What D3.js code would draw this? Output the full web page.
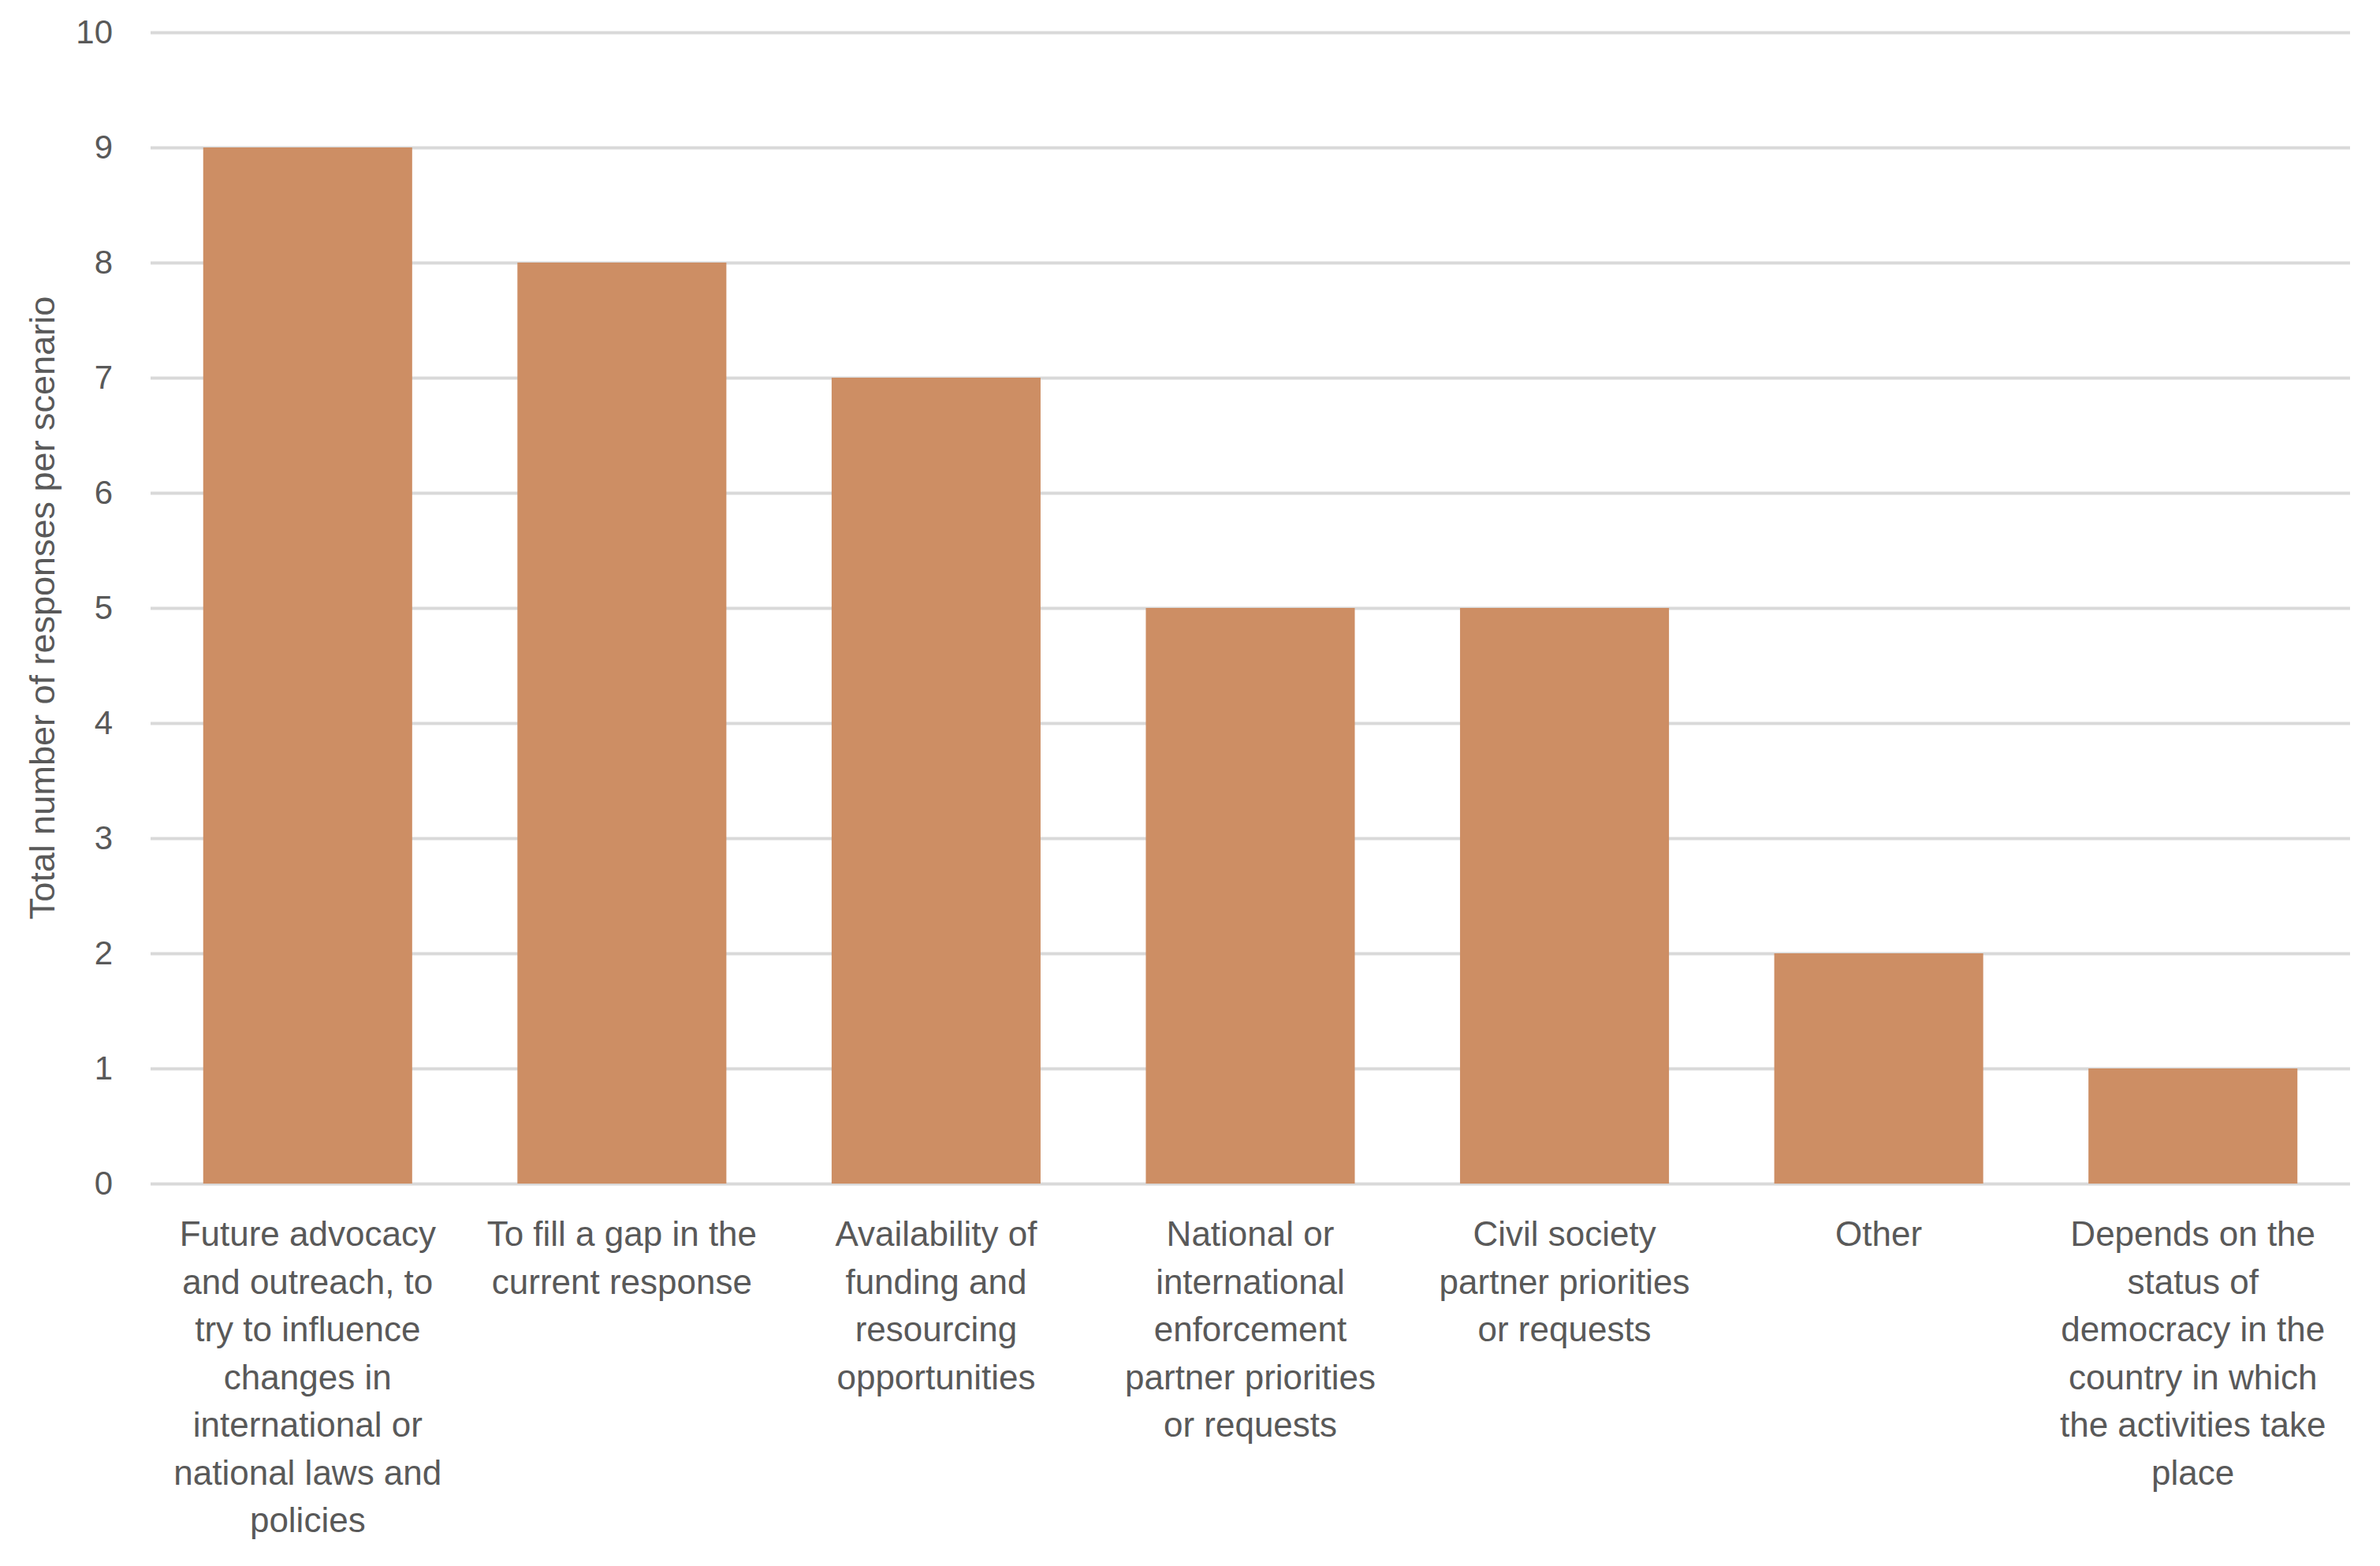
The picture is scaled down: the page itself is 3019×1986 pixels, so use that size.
<!DOCTYPE html>
<html>
<head>
<meta charset="utf-8">
<script src="https://cdn.jsdelivr.net/npm/d3@7"></script>
<style>
  body { margin: 0; background: #fff; }
  text { font-family: "Liberation Sans", Arial, sans-serif; fill: #595959; }
</style>
</head>
<body>
<div id="chart"></div>
<script>
// categories, with the line breaks used in the original labels
var categories = [
  "Future advocacy\nand outreach, to\ntry to influence\nchanges in\ninternational or\nnational laws and\npolicies",
  "To fill a gap in the\ncurrent response",
  "Availability of\nfunding and\nresourcing\nopportunities",
  "National or\ninternational\nenforcement\npartner priorities\nor requests",
  "Civil society\npartner priorities\nor requests",
  "Other",
  "Depends on the\nstatus of\ndemocracy in the\ncountry in which\nthe activities take\nplace"
];
var responses = [9, 8, 7, 5, 5, 2, 1];
var yTicks = [0, 1, 2, 3, 4, 5, 6, 7, 8, 9, 10];
var yTitle = "Total number of responses per scenario";

var width = 3019, height = 1986;
var margin = {top: 41, right: 38, bottom: 485, left: 191};
var innerW = width - margin.left - margin.right;
var innerH = height - margin.top - margin.bottom;

var svg = d3.select("#chart").append("svg")
    .attr("width", width)
    .attr("height", height);

var g = svg.append("g")
    .attr("transform", "translate(" + margin.left + "," + margin.top + ")");

var x = d3.scaleBand()
    .domain(d3.range(categories.length))
    .range([0, innerW])
    .paddingInner(0.335)
    .paddingOuter(0.1675);

var y = d3.scaleLinear()
    .domain([0, 10])
    .range([innerH, 0]);

// gridlines (the 0 line doubles as the axis line)
g.append("g")
    .attr("class", "grid")
    .call(d3.axisLeft(y).tickValues(yTicks).tickSize(-innerW).tickFormat(""))
    .call(function(s) { s.select(".domain").remove(); })
    .selectAll("line")
    .attr("stroke", "#d9d9d9")
    .attr("stroke-width", 4);

// y tick labels
var yAxis = g.append("g")
    .call(d3.axisLeft(y).tickValues(yTicks).tickSize(0).tickPadding(48));
yAxis.select(".domain").remove();
yAxis.selectAll("text")
    .style("font-size", "42px")
    .attr("fill", "#595959");

// bars
g.selectAll(".bar")
    .data(responses)
    .enter().append("rect")
    .attr("class", "bar")
    .attr("x", function(d, i) { return x(i); })
    .attr("y", function(d) { return y(d); })
    .attr("width", x.bandwidth())
    .attr("height", function(d) { return innerH - y(d); })
    .attr("fill", "#cd8e64");

// category labels, one tspan per line
var lab = g.append("g")
    .attr("transform", "translate(0," + innerH + ")")
    .selectAll("text")
    .data(categories)
    .enter().append("text")
    .attr("text-anchor", "middle")
    .style("font-size", "44px")
    .attr("x", function(d, i) { return x(i) + x.bandwidth() / 2; });

lab.selectAll("tspan")
    .data(function(d) { return d.split("\n"); })
    .enter().append("tspan")
    .attr("x", function() { return d3.select(this.parentNode).attr("x"); })
    .attr("y", function(d, i) { return 79 + i * 60.5; })
    .text(function(d) { return d; });

// y title
svg.append("text")
    .attr("transform", "translate(53," + (margin.top + innerH / 2) + ") rotate(-90)")
    .attr("text-anchor", "middle")
    .attr("dominant-baseline", "central")
    .style("font-size", "45px")
    .text(yTitle);
</script>
</body>
</html>
